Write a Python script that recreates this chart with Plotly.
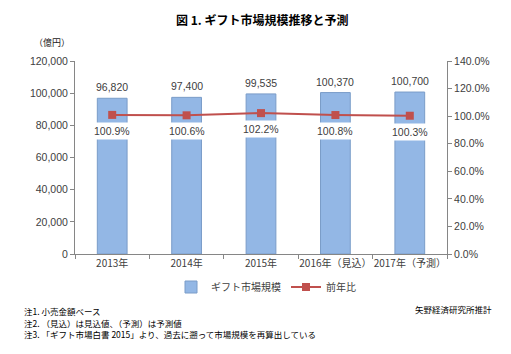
import plotly.graph_objects as go

categories = ["2013年", "2014年", "2015年", "2016年（見込）", "2017年（予測）"]
market_size = [96820, 97400, 99535, 100370, 100700]
yoy = [1.009, 1.006, 1.022, 1.008, 1.003]
yoy_labels = ["100.9%", "100.6%", "102.2%", "100.8%", "100.3%"]
notes = [
    "注1. 小売金額ベース",
    "注2. （見込）は見込値、（予測）は予測値",
    "注3. 「ギフト市場白書 2015」より、過去に遡って市場規模を再算出している",
]

W, H = 511, 354
ML, MR, MT, MB = 75, 64, 61, 100
tick_font = dict(family="Liberation Sans, Arial", size=10.5, color="#404040")
jp = "Noto Sans CJK JP"

fig = go.Figure()
fig.add_trace(go.Bar(
    x=categories, y=market_size, name="ギフト市場規模",
    marker=dict(color="#93B7E5", line=dict(color="#7A9CC8", width=1)),
    width=0.4, yaxis="y",
))
fig.add_trace(go.Scatter(
    x=categories, y=yoy, name="前年比", yaxis="y2", mode="lines+markers",
    line=dict(color="#C0504D", width=2),
    marker=dict(symbol="square", size=8, color="#C0504D"),
))

annotations = []
for c, v in zip(categories, market_size):
    annotations.append(dict(x=c, y=v, xref="x", yref="y", text=f"{v:,}",
                            showarrow=False, yshift=11, yanchor="middle",
                            font=tick_font))
for c, v, t in zip(categories, yoy, yoy_labels):
    annotations.append(dict(x=c, y=v, xref="x", yref="y2", text=t,
                            showarrow=False, yshift=-16, yanchor="middle", bgcolor="white",
                            borderpad=2, font=tick_font))

pix = []
pix.append(dict(x=52, y=43, text="（億円）", xanchor="center",
                font=dict(family=jp, size=9, color="#222")))
pix.append(dict(x=262, y=20, text="<b>図 1. ギフト市場規模推移と予測</b>", xanchor="center",
                font=dict(family=jp, size=12, color="#000")))
pix.append(dict(x=493, y=309, text="矢野経済研究所推計", xanchor="right",
                font=dict(family=jp, size=8.5, color="#000")))
for i, n in enumerate(notes):
    pix.append(dict(x=23, y=311 + 11.5 * i, text=n, xanchor="left",
                    font=dict(family=jp, size=8.5, color="#000")))

# pixel positions (from top-left) -> paper coordinates
for a in pix:
    a["xref"] = "paper"
    a["yref"] = "paper"
    a["showarrow"] = False
    a["yanchor"] = "middle"
    a["borderpad"] = 0
    a["x"] = (a["x"] - ML) / (W - ML - MR)
    a["y"] = (H - a["y"] - MB) / (H - MT - MB)
    annotations.append(a)

fig.update_layout(
    width=W, height=H,
    margin=dict(l=ML, r=MR, t=MT, b=MB),
    paper_bgcolor="white", plot_bgcolor="white",
    showlegend=True,
    legend=dict(orientation="h", x=(266 - ML) / (W - ML - MR), xanchor="center",
                y=(H - 287 - MB) / (H - MT - MB), yanchor="middle",
                font=dict(family=jp, size=10, color="#404040"),
                itemwidth=30, tracegroupgap=0),
    xaxis=dict(showline=True, linecolor="#868686", ticks="outside", tickson="boundaries",
               ticklen=4, tickcolor="#868686", showgrid=False, tickangle=0,
               tickfont=dict(family=jp, size=10, color="#404040")),
    yaxis=dict(range=[0, 120000], dtick=20000, tickformat=",", showline=True,
               linecolor="#868686", ticks="outside", ticklen=4, tickcolor="#868686",
               showgrid=False, zeroline=False, tickfont=tick_font),
    yaxis2=dict(range=[0, 1.4], dtick=0.2, tickformat=".1%", overlaying="y", side="right",
                showline=True, linecolor="#868686", ticks="outside", ticklen=4,
                tickcolor="#868686", showgrid=False, zeroline=False, tickfont=tick_font),
    annotations=annotations,
    bargap=0.6,
)

fig.write_html("out.html")
